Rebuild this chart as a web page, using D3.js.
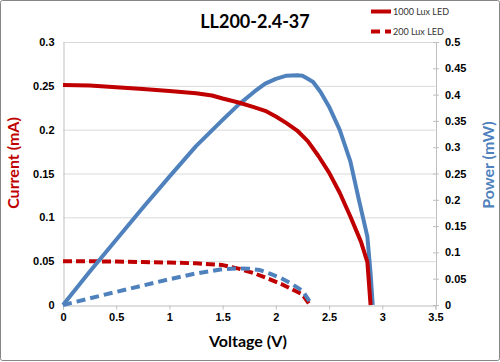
<!DOCTYPE html>
<html>
<head>
<meta charset="utf-8">
<script src="https://cdn.jsdelivr.net/npm/d3@7"></script>
<style>
  body { margin: 0; background: #fff; }
  svg { display: block; font-family: Lato, "Open Sans", sans-serif; }
  .tick text { font-weight: bold; font-size: 11px; fill: #000; }
</style>
</head>
<body>
<div id="chart"></div>
<script>
// 1000 lux LED, current (mA) vs voltage (V)
var current1000 = [
  [0, 0.251], [0.25, 0.2505], [0.5, 0.2485], [0.75, 0.2465], [1.0, 0.244],
  [1.25, 0.2415], [1.4, 0.239], [1.5, 0.2355], [1.65, 0.231], [1.8, 0.2255],
  [1.9, 0.2215], [2.0, 0.215], [2.1, 0.2075], [2.2, 0.199], [2.3, 0.187],
  [2.4, 0.17], [2.5, 0.151], [2.6, 0.128], [2.7, 0.101], [2.8, 0.072],
  [2.86, 0.049], [2.89, 0]
];
// 1000 lux LED, power (mW)
var power1000 = [
  [0, 0], [0.25, 0.063], [0.5, 0.124], [0.75, 0.185], [1.0, 0.244],
  [1.25, 0.302], [1.5, 0.352], [1.65, 0.381], [1.8, 0.406], [1.9, 0.421],
  [2.0, 0.43], [2.1, 0.436], [2.2, 0.437], [2.25, 0.436], [2.3, 0.43],
  [2.35, 0.424], [2.42, 0.405], [2.5, 0.377], [2.6, 0.333], [2.7, 0.273],
  [2.78, 0.2], [2.86, 0.13], [2.89, 0.06], [2.91, 0]
];
// 200 lux LED, current (mA)
var current200 = [
  [0, 0.05], [0.25, 0.0499], [0.5, 0.0495], [0.75, 0.049], [1.0, 0.0485],
  [1.25, 0.0475], [1.5, 0.0455], [1.65, 0.0415], [1.8, 0.036], [1.95, 0.029],
  [2.05, 0.024], [2.15, 0.018], [2.25, 0.012], [2.32, 0]
];
// 200 lux LED, power (mW)
var power200 = [
  [0, 0], [0.25, 0.0125], [0.5, 0.025], [0.75, 0.037], [1.0, 0.049],
  [1.25, 0.06], [1.5, 0.068], [1.65, 0.0695], [1.75, 0.069], [1.85, 0.0665],
  [1.95, 0.059], [2.05, 0.051], [2.15, 0.04], [2.25, 0.027], [2.34, 0]
];

var xTicks = [0, 0.5, 1, 1.5, 2, 2.5, 3, 3.5];
var currentTicks = [0, 0.05, 0.1, 0.15, 0.2, 0.25, 0.3];
var powerTicks = [0, 0.05, 0.1, 0.15, 0.2, 0.25, 0.3, 0.35, 0.4, 0.45, 0.5];
var legendLabels = ['1000 Lux LED', '200 Lux LED'];

var W = 500, H = 362;
var RED = '#C00000', BLUE = '#4F81BD', GRID = '#D9D9D9', AXIS = '#BFBFBF';

var svg = d3.select('#chart').append('svg')
    .attr('width', W)
    .attr('height', H);

// chart border
svg.append('rect')
    .attr('x', 0.5).attr('y', 0.5)
    .attr('width', W - 1).attr('height', H - 2)
    .attr('rx', 2)
    .attr('fill', '#fff')
    .attr('stroke', '#868686');

var x = d3.scaleLinear().domain([0, 3.5]).range([63, 435.5]);
var yI = d3.scaleLinear().domain([0, 0.3]).range([305, 42]);
var yP = d3.scaleLinear().domain([0, 0.5]).range([305, 42]);

// grid
svg.append('g')
    .selectAll('line')
    .data(currentTicks.slice(1))
    .enter()
    .append('line')
    .attr('x1', x(0)).attr('x2', x(3.5))
    .attr('y1', d => yI(d) + 0.5).attr('y2', d => yI(d) + 0.5)
    .attr('stroke', GRID);

var fmt = d => d3.format('')(+d.toFixed(2));

var xAxis = svg.append('g')
    .attr('transform', 'translate(0,' + (yI(0) + 0.5) + ')')
    .call(d3.axisBottom(x).tickValues(xTicks).tickFormat(fmt).tickSize(4).tickPadding(4));

var leftAxis = svg.append('g')
    .attr('transform', 'translate(' + (x(0) + 0.5) + ',0)')
    .call(d3.axisLeft(yI).tickValues(currentTicks).tickFormat(fmt).tickSize(0).tickPadding(9));

var rightAxis = svg.append('g')
    .attr('transform', 'translate(' + (x(3.5) + 0.5) + ',0)')
    .call(d3.axisRight(yP).tickValues(powerTicks).tickFormat(fmt).tickSize(3).tickPadding(6));

[xAxis, leftAxis, rightAxis].forEach(function(a) {
  a.select('.domain').attr('stroke', AXIS);
  a.selectAll('.tick line').attr('stroke', AXIS);
});
// right ticks cross the axis line
rightAxis.selectAll('.tick line').attr('x1', -3);

// lines
var lineI = d3.line().x(d => x(d[0])).y(d => yI(d[1]));
var lineP = d3.line().x(d => x(d[0])).y(d => yP(d[1]));

var series = [
  {data: current200, line: lineI, color: RED, dash: '9,4'},
  {data: power200, line: lineP, color: BLUE, dash: '9,5'},
  {data: power1000, line: lineP, color: BLUE, dash: null},
  {data: current1000, line: lineI, color: RED, dash: null}
];

svg.append('g')
    .selectAll('path')
    .data(series)
    .enter()
    .append('path')
    .attr('d', d => d.line(d.data))
    .attr('fill', 'none')
    .attr('stroke', d => d.color)
    .attr('stroke-width', 4)
    .attr('stroke-linejoin', 'round')
    .attr('stroke-dasharray', d => d.dash);

// title
svg.append('text')
    .attr('x', 255).attr('y', 28)
    .attr('text-anchor', 'middle')
    .style('font-weight', 'bold')
    .style('font-size', '18px')
    .text('LL200-2.4-37');

// axis titles
svg.append('text')
    .attr('x', 248).attr('y', 347)
    .attr('text-anchor', 'middle')
    .style('font-weight', 'bold')
    .style('font-size', '16px')
    .text('Voltage (V)');

svg.append('text')
    .attr('transform', 'translate(19,163) rotate(-90)')
    .attr('text-anchor', 'middle')
    .style('font-weight', 'bold')
    .style('font-size', '16px')
    .attr('fill', RED)
    .text('Current (mA)');

svg.append('text')
    .attr('transform', 'translate(494,165) rotate(-90)')
    .attr('text-anchor', 'middle')
    .style('font-weight', 'bold')
    .style('font-size', '16px')
    .attr('fill', BLUE)
    .text('Power (mW)');

// legend
var legend = svg.append('g')
    .selectAll('g')
    .data(legendLabels)
    .enter()
    .append('g')
    .attr('transform', (d, i) => 'translate(371,' + (11.5 + i * 20) + ')');

legend.append('line')
    .attr('x1', 0).attr('x2', 20)
    .attr('stroke', RED)
    .attr('stroke-width', 4)
    .attr('stroke-dasharray', (d, i) => i === 1 ? '9,5' : null);

legend.append('text')
    .attr('x', 22).attr('y', 3)
    .style('font-size', '9px')
    .attr('fill', '#333')
    .text(d => d);
</script>
</body>
</html>
